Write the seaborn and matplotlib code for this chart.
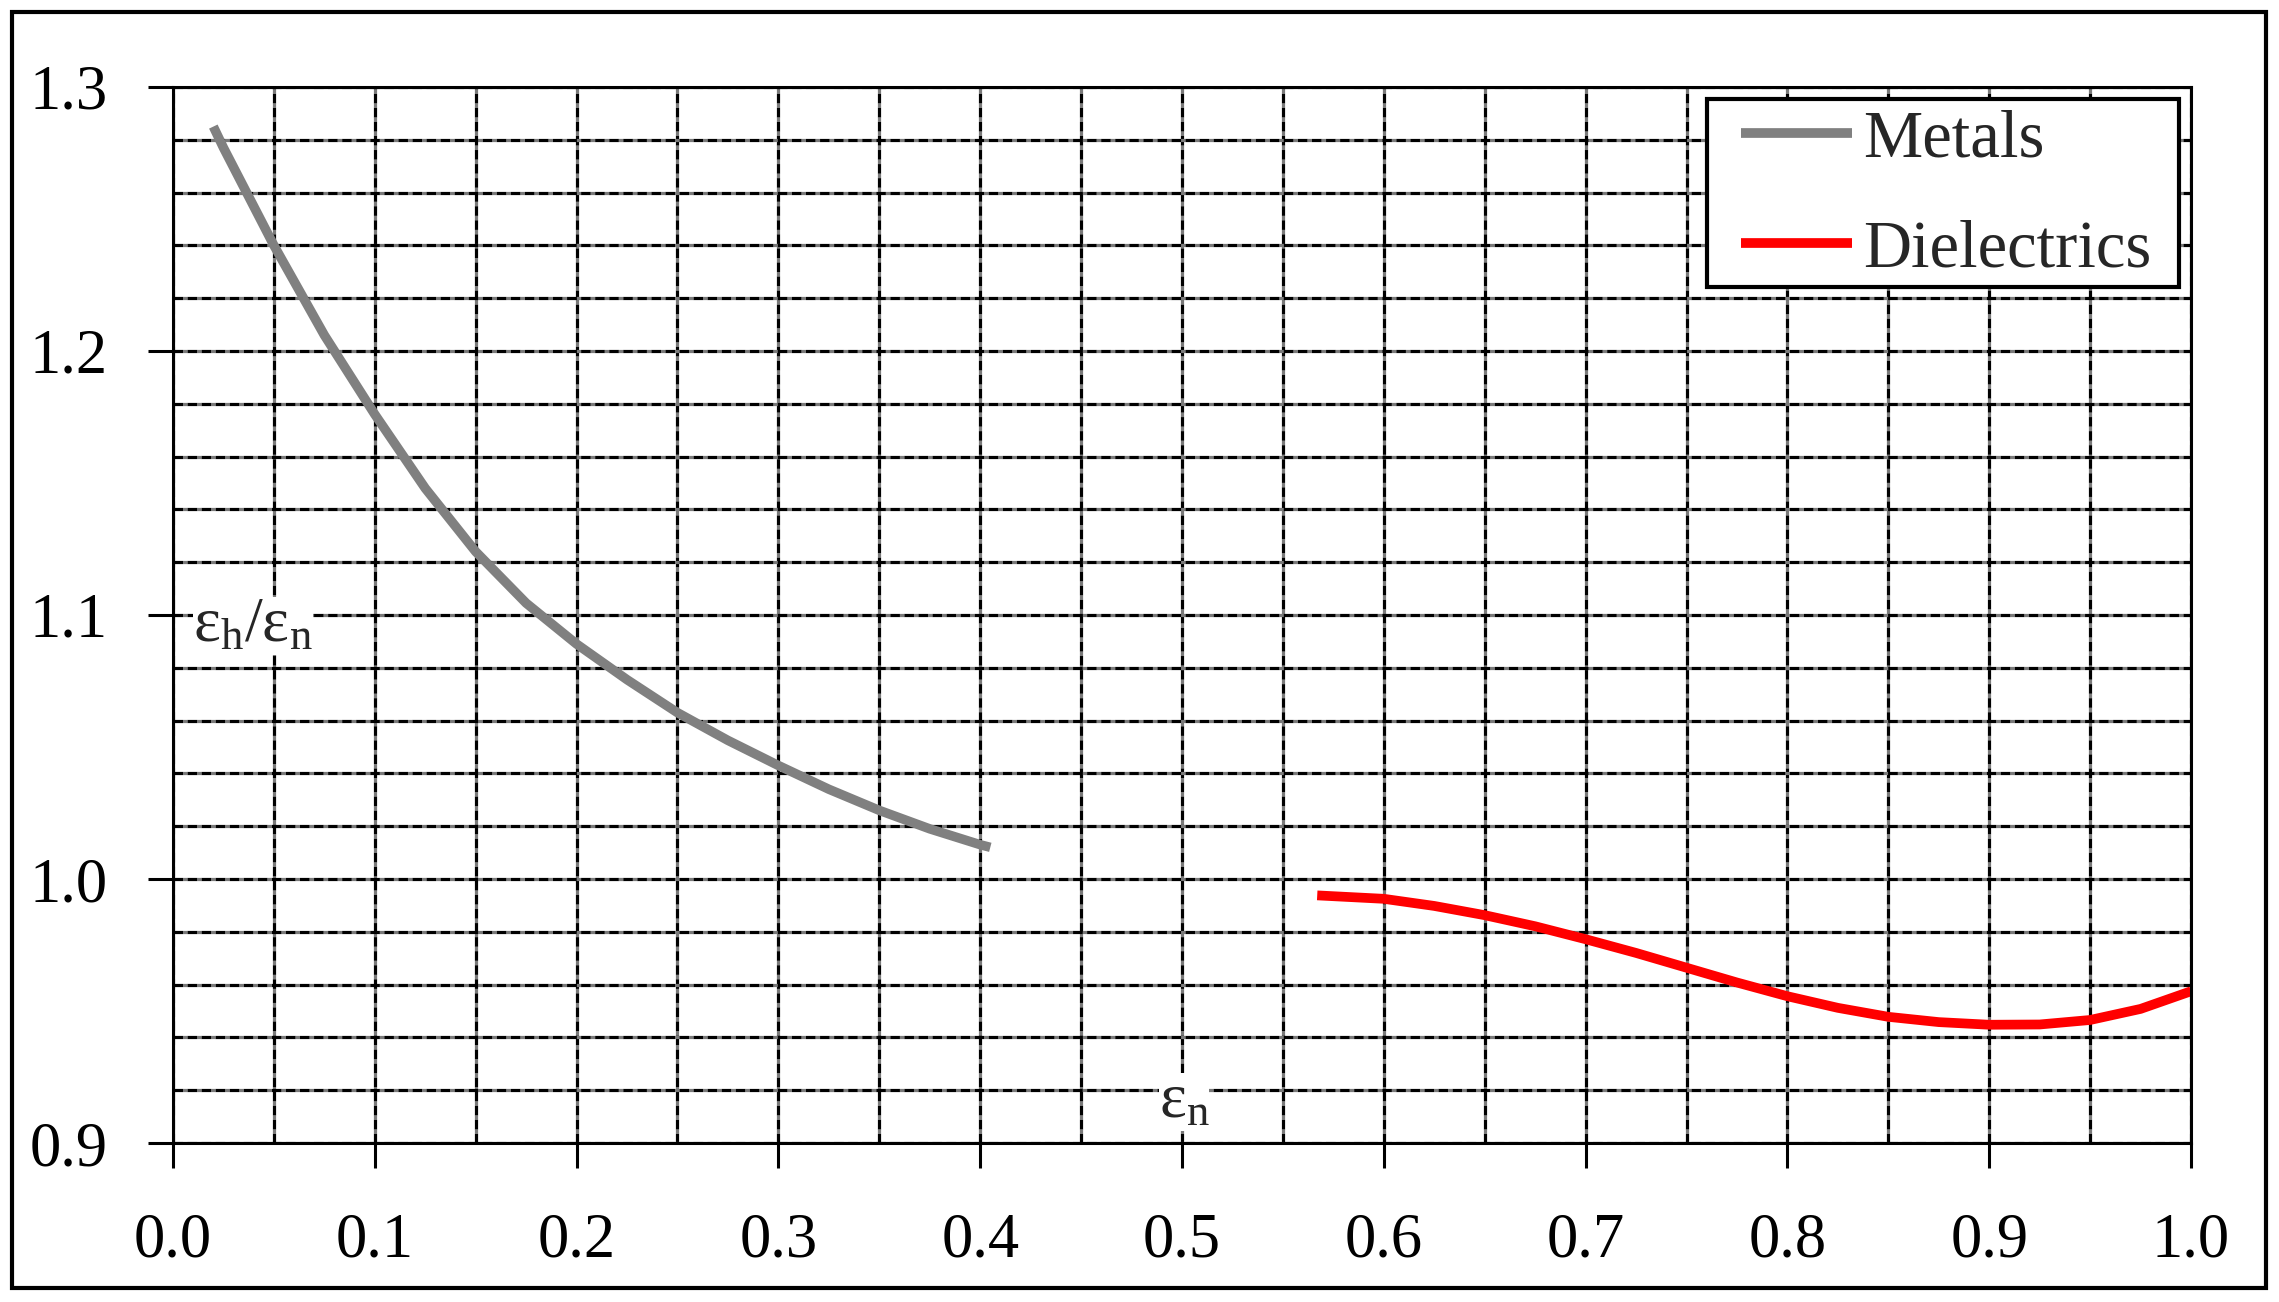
import numpy as np
import pandas as pd
import matplotlib
matplotlib.use("Agg")
import matplotlib.pyplot as plt
from matplotlib.patches import Rectangle
import seaborn as sns

# values
metals_x = [0.02, 0.025, 0.05, 0.075, 0.1, 0.125, 0.15, 0.175, 0.2, 0.225,
            0.25, 0.275, 0.3, 0.325, 0.35, 0.375, 0.4, 0.405]
metals_y = [1.285, 1.277, 1.240, 1.206, 1.176, 1.148, 1.124, 1.1045, 1.089, 1.0755,
            1.063, 1.0525, 1.043, 1.034, 1.026, 1.019, 1.013, 1.012]

diel_x = [0.567, 0.6, 0.625, 0.65, 0.675, 0.7, 0.725, 0.75, 0.775, 0.8,
          0.825, 0.85, 0.875, 0.9, 0.925, 0.95, 0.975, 1.0]
diel_y = [0.9938, 0.9925, 0.9898, 0.9863, 0.9821, 0.9772, 0.9720, 0.9664, 0.9608, 0.9556,
          0.9512, 0.9478, 0.9458, 0.9448, 0.9449, 0.9466, 0.9508, 0.9575]

x_ticks = [0.0, 0.1, 0.2, 0.3, 0.4, 0.5, 0.6, 0.7, 0.8, 0.9, 1.0]
y_ticks = [0.9, 1.0, 1.1, 1.2, 1.3]

sns.set_style("white")
plt.rcParams['font.family'] = ['Liberation Serif', 'DejaVu Serif']
plt.rcParams['mathtext.fontset'] = 'custom'
plt.rcParams['mathtext.rm'] = 'Liberation Serif'

fig = plt.figure(figsize=(22.79, 13.02), dpi=100)
ax = fig.add_axes([0.0759, 0.1221, 0.8855, 0.8111])

metals = pd.DataFrame({'x': metals_x, 'y': metals_y})
diel = pd.DataFrame({'x': diel_x, 'y': diel_y})

sns.lineplot(data=metals, x='x', y='y', ax=ax, color='#808080', linewidth=6.8,
             label='Metals', solid_capstyle='butt', solid_joinstyle='round')
sns.lineplot(data=diel, x='x', y='y', ax=ax, color='#ff0000', linewidth=7,
             label='Dielectrics', solid_capstyle='butt', solid_joinstyle='round')

ax.set_xlim(0, 1.0)
ax.set_ylim(0.9, 1.3)
ax.set_xticks(x_ticks)
ax.set_xticklabels([f"{v:.1f}" for v in x_ticks])
ax.set_yticks(y_ticks)
ax.set_yticklabels([f"{v:.1f}" for v in y_ticks])
ax.set_xticks(np.arange(0, 1.001, 0.05), minor=True)
ax.set_yticks(np.arange(0.9, 1.3001, 0.02), minor=True)
ax.set_xlabel('')
ax.set_ylabel('')

ax.set_axisbelow(True)
ax.grid(True, which='both', color='black', linestyle=(0, (3, 1.4)),
        linewidth=2.3, gapcolor='#7a7a7a')

for s in ax.spines.values():
    s.set_visible(True)
    s.set_color('black')
    s.set_linewidth(2.2)

ax.tick_params(which='major', direction='out', length=18, width=2.2, color='black',
               labelsize=45, labelcolor='black', left=True, bottom=True)
ax.tick_params(axis='x', which='major', pad=32)
ax.tick_params(axis='y', which='major', pad=29)
ax.tick_params(which='minor', length=0)

# in-plot axis labels
ax.text(0.0099, 1.0958, r'$\mathregular{ε_h/ε_n}$', fontsize=46, ha='left', va='center',
        bbox=dict(facecolor='white', edgecolor='none', pad=0))
ax.text(0.501, 0.9155, r'$\mathregular{ε_n}$', fontsize=46, ha='center', va='center',
        bbox=dict(facecolor='white', edgecolor='none', pad=0))

# legend: box drawn separately so the padding can match the original
ax.add_patch(Rectangle((0.7602, 0.8106), 0.2339, 0.1780, transform=ax.transAxes,
                       facecolor='white', edgecolor='black', linewidth=3,
                       zorder=4, clip_on=False))
leg = ax.legend(loc='upper left', bbox_to_anchor=(0.777, 0.979), fontsize=48,
                frameon=False, borderaxespad=0, borderpad=0, handlelength=1.66,
                handletextpad=0.17, labelspacing=0.74)
leg.set_zorder(5)
for h in leg.get_lines():
    h.set_linewidth(7)

fig.patches.append(Rectangle((0.00527, 0.01075), 0.989, 0.980, transform=fig.transFigure,
                             fill=False, edgecolor='black', linewidth=3))

fig.savefig('out.png', dpi=100, facecolor='white')
